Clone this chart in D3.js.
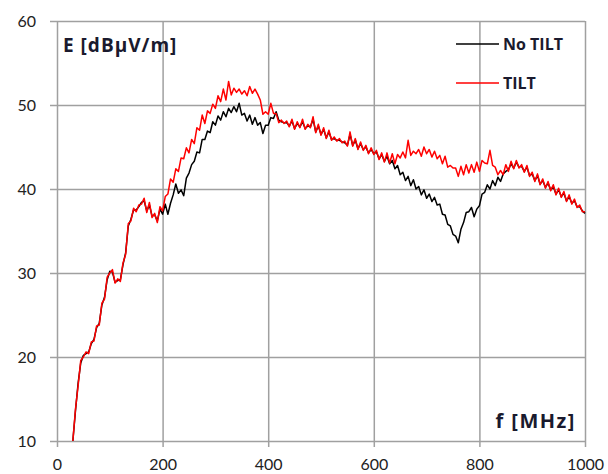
<!DOCTYPE html>
<html>
<head>
<meta charset="utf-8">
<script src="https://cdn.jsdelivr.net/npm/d3@7"></script>
<style>
  body { margin: 0; background: #fff; }
  svg { display: block; }
</style>
</head>
<body>
<div id="chart"></div>
<script>
// frequency grid: 30..1000 MHz, 5 MHz step
const freqStart = 30, freqStep = 5;

// field strength, TILT (red)
const tiltValues = [
  10.0, 13.8, 16.6, 19.6, 20.0, 20.6, 20.4, 21.8, 21.9, 23.7,
  23.8, 26.4, 26.9, 29.5, 30.0, 30.4, 28.8, 29.3, 29.0, 31.2,
  32.2, 35.9, 36.2, 37.7, 37.3, 38.1, 38.2, 38.9, 37.2, 38.4,
  36.6, 37.1, 36.0, 37.9, 37.4, 39.1, 39.4, 41.2, 40.8, 42.4,
  42.1, 43.7, 43.6, 44.9, 44.3, 45.9, 45.4, 47.3, 47.0, 48.8,
  47.8, 49.3, 49.0, 50.1, 49.6, 51.1, 50.4, 51.9, 50.6, 52.8,
  51.2, 52.0, 51.5, 51.9, 51.3, 51.7, 51.1, 52.2, 51.4, 51.9,
  51.3, 50.6, 48.9, 49.2, 48.9, 50.2, 49.0, 49.0, 47.9, 48.2,
  47.8, 48.1, 47.4, 48.3, 47.1, 48.0, 47.3, 48.3, 47.1, 47.7,
  47.3, 48.6, 46.7, 47.7, 46.4, 47.3, 46.0, 47.0, 45.8, 46.2,
  45.7, 46.0, 45.5, 45.7, 45.1, 46.8, 45.1, 46.0, 44.7, 45.6,
  44.6, 45.2, 44.2, 44.9, 44.1, 44.6, 43.5, 44.3, 43.2, 44.3,
  43.1, 44.2, 43.0, 44.1, 43.7, 44.4, 43.7, 45.8, 44.0, 44.5,
  44.2, 44.7, 43.9, 45.0, 44.2, 44.7, 43.8, 44.5, 43.6, 44.0,
  43.0, 43.9, 42.6, 42.8, 42.5, 42.5, 41.5, 42.7, 41.7, 42.9,
  41.9, 42.9, 42.0, 43.2, 42.1, 43.4, 43.1, 43.0, 44.6, 42.8,
  42.6, 41.7, 42.2, 41.7, 42.9, 42.1, 43.3, 42.4, 43.4, 42.5,
  42.9, 42.0, 42.8, 41.5, 42.0, 40.9, 41.8, 40.5, 41.2, 40.1,
  40.9, 39.8, 40.5, 39.3, 40.1, 39.0, 39.7, 38.5, 39.3, 38.2,
  38.8, 37.8, 38.1, 37.3, 37.3
];

// field strength, No TILT (black)
const noTiltValues = [
  10.0, 13.6, 16.9, 19.3, 20.2, 20.4, 20.6, 21.6, 22.1, 23.5,
  24.0, 26.2, 27.1, 29.2, 30.2, 30.1, 28.9, 29.1, 29.2, 31.0,
  32.4, 35.6, 36.4, 37.5, 37.5, 37.9, 38.4, 38.6, 37.4, 38.1,
  36.8, 36.9, 36.2, 37.6, 37.0, 38.2, 37.0, 38.3, 39.3, 40.6,
  39.5, 39.9, 39.2, 41.3, 41.9, 42.9, 43.3, 44.4, 44.3, 45.9,
  45.9, 46.9, 46.7, 48.0, 47.6, 48.7, 48.2, 49.2, 48.6, 49.6,
  49.1, 49.8, 49.2, 50.2, 48.8, 49.0, 48.1, 48.8, 47.7, 48.5,
  47.6, 47.9, 46.6, 47.6, 47.6, 48.5, 48.4, 49.2, 48.2, 48.0,
  47.9, 47.9, 47.5, 48.1, 47.2, 47.8, 47.4, 48.0, 47.2, 47.5,
  47.4, 48.3, 46.8, 47.5, 46.5, 47.1, 46.1, 46.8, 45.9, 46.0,
  45.8, 45.8, 45.6, 45.5, 45.2, 46.5, 45.2, 45.8, 44.8, 45.4,
  44.7, 45.0, 44.3, 44.7, 44.2, 44.4, 43.6, 44.1, 43.3, 43.9,
  43.0, 43.4, 42.4, 42.8, 41.7, 42.0, 41.0, 41.5, 40.4, 41.1,
  40.0, 40.3, 39.3, 39.9, 38.9, 39.4, 38.5, 39.0, 38.1, 38.2,
  37.0, 36.9, 35.8, 35.6, 34.6, 34.4, 33.6, 35.2, 36.0, 37.2,
  37.3, 37.8, 36.7, 37.6, 38.0, 39.4, 39.6, 40.5, 40.0, 41.0,
  40.4, 41.4, 40.9, 41.8, 42.1, 42.3, 43.0, 42.5, 43.2, 42.6,
  42.7, 42.1, 42.6, 41.6, 41.8, 41.0, 41.6, 40.6, 41.0, 40.2,
  40.7, 39.9, 40.3, 39.4, 39.9, 39.1, 39.5, 38.6, 39.1, 38.3,
  38.6, 37.9, 37.9, 37.4, 37.1
];

const xTicks = [0, 200, 400, 600, 800, 1000];
const yTicks = [10, 20, 30, 40, 50, 60];
const seriesNames = ["No TILT", "TILT"];
const seriesColors = ["#000000", "#ff0000"];

const width = 608, height = 474;
const tickFont = "Lato, 'Open Sans', sans-serif";
const labelFont = "'Open Sans', Lato, sans-serif";

const svg = d3.select("#chart").append("svg")
    .attr("width", width)
    .attr("height", height);

const x = d3.scaleLinear().domain([0, 1000]).range([57, 585]);
const y = d3.scaleLinear().domain([10, 60]).range([441, 21]);

// x axis + vertical grid
const gx = svg.append("g")
    .attr("transform", "translate(0," + y(10) + ")")
    .call(d3.axisBottom(x).tickValues(xTicks).tickFormat(d3.format("d"))
        .tickSize(6).tickSizeOuter(0).tickPadding(12));
gx.select(".domain").remove();
gx.selectAll(".tick line")
    .attr("y1", y(60) - y(10))
    .attr("y2", 6)
    .attr("stroke", "#a0a0a0")
    .attr("stroke-width", 1.5);
gx.selectAll(".tick text")
    .style("font-family", tickFont)
    .style("font-size", "16px")
    .attr("fill", "#222");

// y axis + horizontal grid
const gy = svg.append("g")
    .attr("transform", "translate(" + x(0) + ",0)")
    .call(d3.axisLeft(y).tickValues(yTicks).tickSize(7).tickSizeOuter(0).tickPadding(14));
gy.select(".domain").remove();
gy.selectAll(".tick line")
    .attr("x1", -7)
    .attr("x2", x(1000) - x(0))
    .attr("stroke", "#a0a0a0")
    .attr("stroke-width", 1.5);
gy.selectAll(".tick text")
    .style("font-family", tickFont)
    .style("font-size", "16px")
    .attr("fill", "#222");

// lines
const line = d3.line()
    .x((d, i) => x(freqStart + i * freqStep))
    .y(d => y(d));

svg.append("path")
    .datum(noTiltValues)
    .attr("fill", "none")
    .attr("stroke", seriesColors[0])
    .attr("stroke-width", 1.5)
    .attr("stroke-linejoin", "round")
    .attr("d", line);

svg.append("path")
    .datum(tiltValues)
    .attr("fill", "none")
    .attr("stroke", seriesColors[1])
    .attr("stroke-width", 1.5)
    .attr("stroke-linejoin", "round")
    .attr("d", line);

// axis titles
svg.append("text")
    .attr("x", 63)
    .attr("y", 52)
    .style("font-family", labelFont)
    .style("font-size", "19px")
    .style("font-weight", "bold")
    .style("letter-spacing", "1px")
    .attr("fill", "#1a1a2e")
    .text("E [dBµV/m]");

svg.append("text")
    .attr("x", 576)
    .attr("y", 428)
    .attr("text-anchor", "end")
    .style("font-family", labelFont)
    .style("font-size", "20px")
    .style("font-weight", "bold")
    .style("letter-spacing", "1.5px")
    .attr("fill", "#1a1a2e")
    .text("f [MHz]");

// legend
const legend = svg.selectAll("g.legend")
    .data(seriesNames)
    .enter()
    .append("g")
    .attr("class", "legend")
    .attr("transform", (d, i) => "translate(456," + (44 + i * 39) + ")");

legend.append("line")
    .attr("x1", 0)
    .attr("x2", 43)
    .attr("stroke", (d, i) => seriesColors[i])
    .attr("stroke-width", 1.5);

legend.append("text")
    .attr("x", 47)
    .attr("dy", "0.35em")
    .style("font-family", labelFont)
    .style("font-size", "16px")
    .style("font-weight", "bold")
    .attr("fill", "#1a1a2e")
    .text(d => d);
</script>
</body>
</html>
